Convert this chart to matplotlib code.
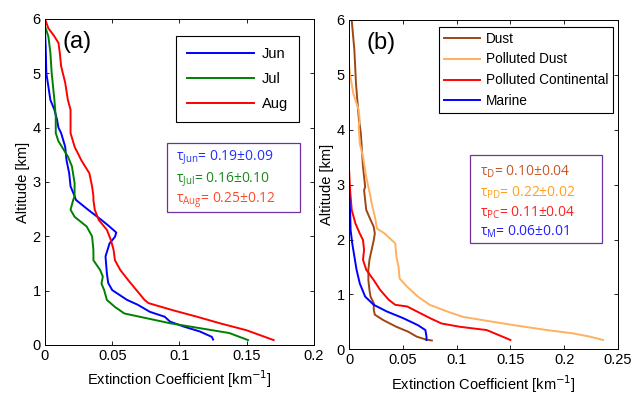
import matplotlib
matplotlib.use("Agg")
import matplotlib.pyplot as plt
from matplotlib.patches import Rectangle
import matplotlib.ticker as mticker

plt.rcParams['font.family'] = ['Liberation Sans', 'DejaVu Sans']
plt.rcParams['font.size'] = 10.5

# ---- panel (a): monthly mean profiles ----
jun_alt = [6.0, 5.8, 5.49, 5.0, 4.76, 4.51, 4.33, 4.14, 4.0, 3.9, 3.65, 3.4, 3.16, 2.92, 2.74,
           2.67, 2.49, 2.3, 2.2, 2.07, 1.99, 1.87, 1.63, 1.32, 1.14, 1.01, 0.83, 0.74, 0.61,
           0.52, 0.43, 0.34, 0.25, 0.15, 0.1]
jun_ext = [0.0, 0.0, 0.0005, 0.001, 0.0025, 0.004, 0.007, 0.009, 0.010, 0.012, 0.015, 0.016, 0.018,
           0.019, 0.022, 0.023, 0.032, 0.042, 0.047, 0.053, 0.052, 0.048, 0.045, 0.046, 0.047, 0.050,
           0.061, 0.069, 0.078, 0.089, 0.093, 0.103, 0.115, 0.124, 0.125]

jul_alt = [5.87, 5.68, 5.38, 5.0, 4.51, 4.2, 3.9, 3.75, 3.59, 3.47, 3.29, 2.98, 2.74, 2.67, 2.49,
           2.36, 2.18, 2.0, 1.75, 1.56, 1.38, 1.26, 1.13, 1.01, 0.83, 0.70, 0.58, 0.49, 0.40,
           0.31, 0.22, 0.09]
jul_ext = [0.0, 0.0025, 0.004, 0.005, 0.007, 0.008, 0.008, 0.010, 0.014, 0.017, 0.020, 0.022, 0.022,
           0.021, 0.019, 0.022, 0.031, 0.035, 0.036, 0.036, 0.041, 0.043, 0.042, 0.044, 0.046,
           0.052, 0.059, 0.076, 0.093, 0.115, 0.137, 0.151]

aug_alt = [6.0, 5.83, 5.68, 5.56, 5.38, 5.13, 4.83, 4.51, 4.33, 4.08, 3.9, 3.65, 3.4, 3.16, 2.92,
           2.74, 2.67, 2.49, 2.3, 2.12, 1.93, 1.75, 1.56, 1.38, 1.19, 1.01, 0.83, 0.77, 0.64,
           0.52, 0.40, 0.27, 0.09]
aug_ext = [0.0, 0.0025, 0.007, 0.010, 0.011, 0.012, 0.015, 0.017, 0.019, 0.019, 0.019, 0.022, 0.027,
           0.033, 0.035, 0.036, 0.036, 0.037, 0.040, 0.046, 0.049, 0.051, 0.052, 0.056, 0.062,
           0.068, 0.074, 0.077, 0.095, 0.113, 0.130, 0.150, 0.170]

# ---- panel (b): aerosol type profiles ----
dust_alt = [6.0, 5.45, 4.84, 4.23, 3.93, 3.63, 3.33, 2.96, 2.9, 2.72, 2.54, 2.36, 2.23, 2.11, 1.99,
            1.81, 1.63, 1.45, 1.26, 1.08, 0.96, 0.84, 0.72, 0.63, 0.53, 0.41, 0.32, 0.23, 0.18, 0.16]
dust_ext = [0.0025, 0.005, 0.0065, 0.009, 0.011, 0.012, 0.013, 0.015, 0.014, 0.015, 0.016, 0.020,
            0.023, 0.024, 0.023, 0.021, 0.019, 0.018, 0.018, 0.019, 0.020, 0.023, 0.023, 0.024,
            0.032, 0.044, 0.055, 0.063, 0.071, 0.077]

pdust_alt = [6.0, 5.2, 5.0, 4.66, 4.36, 4.16, 4.06, 3.75, 3.51, 3.14, 2.78, 2.66, 2.42, 2.2, 2.11,
             1.93, 1.69, 1.51, 1.29, 1.14, 0.96, 0.81, 0.69, 0.59, 0.50, 0.44, 0.35, 0.29, 0.23, 0.17]
pdust_ext = [0.0, 0.0, 0.001, 0.004, 0.009, 0.010, 0.009, 0.010, 0.013, 0.016, 0.020, 0.021, 0.024,
             0.026, 0.033, 0.043, 0.044, 0.046, 0.047, 0.054, 0.064, 0.075, 0.091, 0.106, 0.134,
             0.153, 0.184, 0.208, 0.224, 0.236]

pcont_alt = [6.0, 3.3, 2.9, 2.54, 2.29, 2.11, 1.99, 1.81, 1.63, 1.45, 1.26, 1.08, 0.90, 0.81, 0.78,
             0.66, 0.57, 0.47, 0.41, 0.35, 0.26, 0.17]
pcont_ext = [0.0, 0.0, 0.001, 0.0025, 0.006, 0.010, 0.013, 0.014, 0.013, 0.016, 0.023, 0.029, 0.037,
             0.043, 0.054, 0.066, 0.075, 0.086, 0.103, 0.128, 0.139, 0.150]

marine_alt = [6.0, 3.6, 2.9, 2.54, 2.17, 1.93, 1.69, 1.45, 1.20, 0.96, 0.81, 0.69, 0.57, 0.44, 0.35,
              0.23, 0.17]
marine_ext = [0.0, 0.0, 0.0, 0.001, 0.0015, 0.003, 0.005, 0.007, 0.010, 0.015, 0.023, 0.035, 0.050,
              0.064, 0.071, 0.072, 0.072]

month_labels = ['Jun', 'Jul', 'Aug']
type_labels = ['Dust', 'Polluted Dust', 'Polluted Continental', 'Marine']
tau_month = [('Jun', '0.19\u00b10.09', '#2030FF'),
             ('Jul', '0.16\u00b10.10', '#1A8A1A'),
             ('Aug', '0.25\u00b10.12', '#FF4A2A')]
tau_type = [('D', '0.10\u00b10.04', '#C8582A'),
            ('PD', '0.22\u00b10.02', '#FFA020'),
            ('PC', '0.11\u00b10.04', '#FF2020'),
            ('M', '0.06\u00b10.01', '#2020FF')]


def style_axes(ax, xmax, xticks):
    ax.set_xlim(0, xmax)
    ax.set_ylim(0, 6)
    ax.set_xticks(xticks)
    ax.set_yticks(range(7))
    ax.xaxis.set_major_formatter(mticker.FormatStrFormatter('%g'))
    ax.tick_params(direction='in', top=True, right=True, length=3, width=0.6, labelsize=10.5,
                   pad=3)
    for s in ax.spines.values():
        s.set_linewidth(0.7)
    ax.set_xlabel('Extinction Coefficient [km$^{-1}$]', labelpad=4)
    ax.set_ylabel('Altitude [km]', labelpad=2)


def tau_box(ax, x0, x1, y0, y1, tx, ys, entries):
    ax.add_patch(Rectangle((x0, y0), x1 - x0, y1 - y0, transform=ax.transAxes,
                           fill=False, edgecolor='#7030A0', linewidth=0.9, zorder=5))
    for (sub, val, col), y in zip(entries, ys):
        ax.text(tx, y, r'$\mathregular{\tau_{%s}}$= %s' % (sub, val), transform=ax.transAxes,
                color=col, fontsize=10, family=['Open Sans', 'DejaVu Sans'],
                va='center', ha='left', zorder=6)


fig = plt.figure(figsize=(6.31, 3.94), dpi=100)
ax1 = fig.add_axes([0.0713, 0.1244, 0.4263, 0.8274])
ax2 = fig.add_axes([0.5531, 0.1135, 0.4263, 0.8358])

lw = 1.4
ax1.plot(jun_ext, jun_alt, color='#0000FF', lw=lw, label=month_labels[0])
ax1.plot(jul_ext, jul_alt, color='#008000', lw=lw, label=month_labels[1])
ax1.plot(aug_ext, aug_alt, color='#FF0000', lw=lw, label=month_labels[2])
style_axes(ax1, 0.2, [0, 0.05, 0.1, 0.15, 0.2])
ax1.text(0.065, 0.93, '(a)', transform=ax1.transAxes, fontsize=17, va='center')
leg = ax1.legend(loc='upper right', bbox_to_anchor=(0.944, 0.948), fancybox=False,
                 edgecolor='black', framealpha=1, handlelength=4.6, labelspacing=0.75,
                 borderpad=0.75, handletextpad=0.5, borderaxespad=0, fontsize=10.5)
leg.get_frame().set_linewidth(0.8)
tau_box(ax1, 0.4535, 0.948, 0.408, 0.620, 0.487, [0.574, 0.506, 0.445], tau_month)

ax2.plot(dust_ext, dust_alt, color='#A04614', lw=lw, label=type_labels[0])
ax2.plot(pdust_ext, pdust_alt, color='#FFB060', lw=lw, label=type_labels[1])
ax2.plot(pcont_ext, pcont_alt, color='#FF0000', lw=lw, label=type_labels[2])
ax2.plot(marine_ext, marine_alt, color='#0000FF', lw=lw, label=type_labels[3])
style_axes(ax2, 0.25, [0, 0.05, 0.1, 0.15, 0.2, 0.25])
ax2.text(0.065, 0.93, '(b)', transform=ax2.transAxes, fontsize=17, va='center')
leg = ax2.legend(loc='upper right', bbox_to_anchor=(0.981, 0.979), fancybox=False,
                 edgecolor='black', framealpha=1, handlelength=2.65, labelspacing=0.5,
                 borderpad=0.35, handletextpad=0.45, borderaxespad=0, fontsize=9.8)
leg.get_frame().set_linewidth(0.8)
tau_box(ax2, 0.450, 0.941, 0.323, 0.590, 0.487, [0.538, 0.475, 0.414, 0.356], tau_type)

fig.savefig('out.png', dpi=100)
